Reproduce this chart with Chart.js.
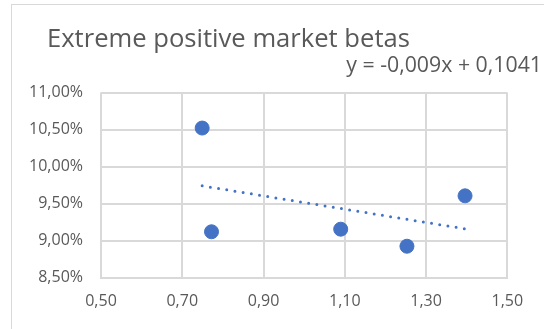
<!DOCTYPE html>
<html>
<head>
<meta charset="utf-8">
<script src="https://cdn.jsdelivr.net/npm/chart.js@4"></script>
<style>
  html, body { margin: 0; padding: 0; background: #fff; }
  #wrap { position: relative; width: 544px; height: 329px; overflow: hidden; }
  #frame { position: absolute; left: 11px; top: 4px; width: 600px; height: 400px; border: 1px solid #d9d9d9; box-sizing: border-box; }
  canvas { position: absolute; left: 0; top: 0; }
  .txt { position: absolute; font-family: "Open Sans", sans-serif; color: #595959; line-height: 1; white-space: nowrap; }
  #titulo { left: 47px; top: 25px; font-size: 25.6px; }
  #equacao { right: 2px; top: 53px; font-size: 21.3px; }
</style>
</head>
<body>
<div id="wrap">
  <div id="frame"></div>
  <canvas id="grafico" width="544" height="329"></canvas>
  <div class="txt" id="titulo">Extreme positive market betas</div>
  <div class="txt" id="equacao">y = -0,009x + 0,1041</div>
</div>
<script>
// market beta (x) vs return in % (y)
const betas = [0.749, 0.772, 1.090, 1.253, 1.396];
const retornos = [10.52, 9.12, 9.155, 8.925, 9.605];

// trendline ends (y = -0,009x + 0,1041)
const tendenciaX = [0.749, 1.396];
const tendenciaY = [9.74, 9.16];

const xMin = 0.5, xMax = 1.5, xPasso = 0.2;
const yMin = 8.5, yMax = 11, yPasso = 0.5;

const azul = "#4472C4";
const cinza = "#595959";
const grade = "#d9d9d9";

function formatarNumero(v, casas) {
  return v.toFixed(casas).replace(".", ",");
}

const ctx = document.getElementById("grafico").getContext("2d");

new Chart(ctx, {
  type: "scatter",
  data: {
    datasets: [
      {
        label: "Linear trend",
        type: "line",
        data: tendenciaX.map((x, i) => ({ x, y: tendenciaY[i] })),
        borderColor: azul,
        borderWidth: 3,
        borderDash: [0, 8.3],
        borderCapStyle: "round",
        pointRadius: 0,
        fill: false,
        tension: 0,
      },
      {
        label: "Betas",
        data: betas.map((x, i) => ({ x, y: retornos[i] })),
        backgroundColor: azul,
        borderColor: azul,
        borderWidth: 1,
        pointRadius: 7,
      },
    ],
  },
  options: {
    responsive: false,
    animation: false,
    layout: { padding: { left: 0, right: 36.7, top: 92.5, bottom: 0 } },
    plugins: {
      legend: { display: false },
      title: { display: false },
      tooltip: { enabled: false },
    },
    scales: {
      x: {
        type: "linear",
        min: xMin,
        max: xMax,
        afterFit: (s) => { s.height = 51.3; },
        ticks: {
          stepSize: xPasso,
          padding: 14,
          color: cinza,
          font: { family: "Open Sans", size: 16 },
          callback: (v) => formatarNumero(v, 2),
        },
        grid: { color: grade, lineWidth: 2, drawTicks: false },
        border: { color: grade, width: 2 },
      },
      y: {
        type: "linear",
        min: yMin,
        max: yMax,
        afterFit: (s) => { s.width = 101; },
        ticks: {
          stepSize: yPasso,
          padding: 18,
          color: cinza,
          font: { family: "Open Sans", size: 16 },
          callback: (v) => formatarNumero(v, 2) + "%",
        },
        grid: { color: grade, lineWidth: 2, drawTicks: false },
        border: { display: false },
      },
    },
  },
});
</script>
</body>
</html>
